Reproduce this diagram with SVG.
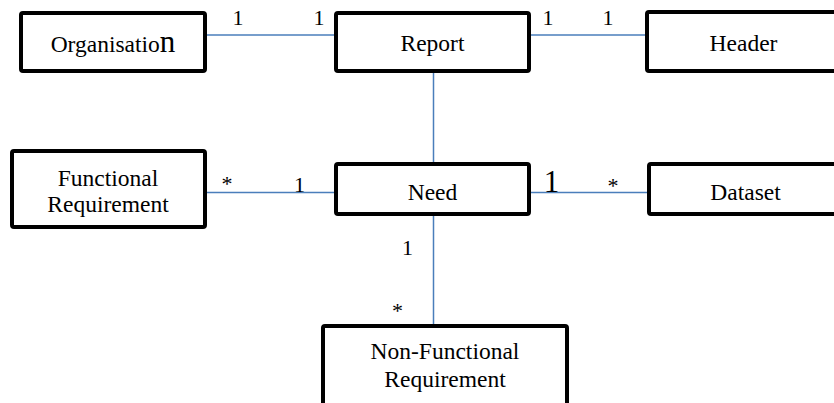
<svg xmlns="http://www.w3.org/2000/svg" width="834" height="403" viewBox="0 0 834 403">
<rect width="834" height="403" fill="#fff"/>
<g id="connectors">
<g stroke="#4a7ebb" stroke-width="1.5" fill="none">
<line x1="207" y1="35" x2="334" y2="35"/>
<line x1="531" y1="35" x2="645" y2="35"/>
<line x1="433.5" y1="73" x2="433.5" y2="162"/>
<line x1="207" y1="192.5" x2="334" y2="192.5"/>
<line x1="531" y1="192.5" x2="647" y2="192.5"/>
<line x1="433.5" y1="216" x2="433.5" y2="324"/>
</g>
<text x="238" y="25" font-size="22" text-anchor="middle" font-family="Liberation Serif">1</text>
<text x="319" y="25" font-size="22" text-anchor="middle" font-family="Liberation Serif">1</text>
<text x="548" y="25" font-size="22" text-anchor="middle" font-family="Liberation Serif">1</text>
<text x="608" y="25" font-size="22" text-anchor="middle" font-family="Liberation Serif">1</text>
<text x="227" y="191" font-size="22" text-anchor="middle" font-family="Liberation Serif">*</text>
<text x="299.5" y="192" font-size="22" text-anchor="middle" font-family="Liberation Serif">1</text>
<text x="551.5" y="192" font-size="31" text-anchor="middle" font-family="Liberation Serif">1</text>
<text x="613" y="193" font-size="22" text-anchor="middle" font-family="Liberation Serif">*</text>
<text x="407.5" y="255" font-size="22" text-anchor="middle" font-family="Liberation Serif">1</text>
<text x="397.5" y="318" font-size="22" text-anchor="middle" font-family="Liberation Serif">*</text>
</g>
<g id="organisation">
<rect x="21" y="13" width="184" height="58" rx="2" fill="#fff" stroke="#000" stroke-width="4"/>
<text x="113" y="52" font-size="23.5" text-anchor="middle" font-family="Liberation Serif">Organisatio<tspan font-size="31">n</tspan></text>
</g>
<g id="report">
<rect x="336" y="13" width="193" height="58" rx="2" fill="#fff" stroke="#000" stroke-width="4"/>
<text x="432.5" y="51" font-size="23.5" text-anchor="middle" font-family="Liberation Serif">Report</text>
</g>
<g id="header">
<rect x="647" y="12" width="193" height="59" rx="2" fill="#fff" stroke="#000" stroke-width="4"/>
<text x="743.5" y="51" font-size="23.5" text-anchor="middle" font-family="Liberation Serif">Header</text>
</g>
<g id="functional-requirement">
<rect x="12" y="151" width="193" height="76" rx="2" fill="#fff" stroke="#000" stroke-width="4"/>
<text x="108" y="186" font-size="23.5" text-anchor="middle" font-family="Liberation Serif">Functional</text>
<text x="108" y="212" font-size="23.5" text-anchor="middle" font-family="Liberation Serif">Requirement</text>
</g>
<g id="need">
<rect x="336" y="164" width="193" height="50" rx="2" fill="#fff" stroke="#000" stroke-width="4"/>
<text x="432.5" y="200" font-size="23.5" text-anchor="middle" font-family="Liberation Serif">Need</text>
</g>
<g id="dataset">
<rect x="649" y="164" width="193" height="50" rx="2" fill="#fff" stroke="#000" stroke-width="4"/>
<text x="745.5" y="200" font-size="23.5" text-anchor="middle" font-family="Liberation Serif">Dataset</text>
</g>
<g id="non-functional-requirement">
<rect x="323" y="326" width="244" height="90" rx="2" fill="#fff" stroke="#000" stroke-width="4"/>
<text x="445" y="359" font-size="23.5" text-anchor="middle" font-family="Liberation Serif">Non-Functional</text>
<text x="445" y="387" font-size="23.5" text-anchor="middle" font-family="Liberation Serif">Requirement</text>
</g>
</svg>
